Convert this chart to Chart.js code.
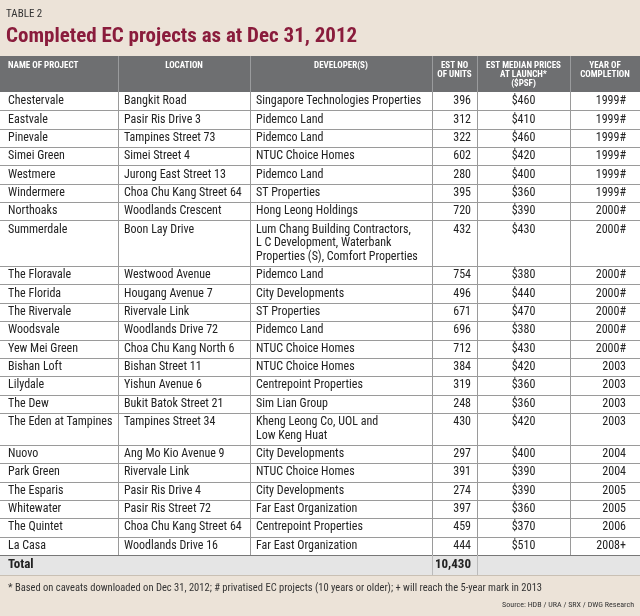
<!DOCTYPE html>
<html><head><meta charset="utf-8">
<script src="https://cdn.jsdelivr.net/npm/chart.js@4"></script>
<style>html,body{margin:0;padding:0;background:#ece3d8;}#wrap{width:640px;height:616px;}</style>
</head><body><div id="wrap"><canvas id="tbl" width="640" height="616"></canvas></div>
<script>
const projects = ['Chestervale','Eastvale','Pinevale','Simei Green','Westmere','Windermere','Northoaks','Summerdale','The Floravale','The Florida','The Rivervale','Woodsvale','Yew Mei Green','Bishan Loft','Lilydale','The Dew','The Eden at Tampines','Nuovo','Park Green','The Esparis','Whitewater','The Quintet','La Casa'];
const locations = ['Bangkit Road','Pasir Ris Drive 3','Tampines Street 73','Simei Street 4','Jurong East Street 13','Choa Chu Kang Street 64','Woodlands Crescent','Boon Lay Drive','Westwood Avenue','Hougang Avenue 7','Rivervale Link','Woodlands Drive 72','Choa Chu Kang North 6','Bishan Street 11','Yishun Avenue 6','Bukit Batok Street 21','Tampines Street 34','Ang Mo Kio Avenue 9','Rivervale Link','Pasir Ris Drive 4','Pasir Ris Street 72','Choa Chu Kang Street 64','Woodlands Drive 16'];
const developers = [['Singapore Technologies Properties'],['Pidemco Land'],['Pidemco Land'],['NTUC Choice Homes'],['Pidemco Land'],['ST Properties'],['Hong Leong Holdings'],['Lum Chang Building Contractors,','L C Development, Waterbank','Properties (S), Comfort Properties'],['Pidemco Land'],['City Developments'],['ST Properties'],['Pidemco Land'],['NTUC Choice Homes'],['NTUC Choice Homes'],['Centrepoint Properties'],['Sim Lian Group'],['Kheng Leong Co, UOL and','Low Keng Huat'],['City Developments'],['NTUC Choice Homes'],['City Developments'],['Far East Organization'],['Centrepoint Properties'],['Far East Organization']];
const units = [396,312,322,602,280,395,720,432,754,496,671,696,712,384,319,248,430,297,391,274,397,459,444];
const prices = [460,410,460,420,400,360,390,430,380,440,470,380,430,420,360,360,420,400,390,390,360,370,510];
const years = ['1999#','1999#','1999#','1999#','1999#','1999#','2000#','2000#','2000#','2000#','2000#','2000#','2000#','2003','2003','2003','2003','2004','2004','2005','2005','2006','2008+'];
const headers = [['NAME OF PROJECT'],['LOCATION'],['DEVELOPER(S)'],['EST NO','OF UNITS'],['EST MEDIAN PRICES','AT LAUNCH*','($PSF)'],['YEAR OF','COMPLETION']];
const totalLabel = 'Total';
const totalUnits = '10,430';

// row extents in "line units" on the y scale
const PAD = 0.34;
const rowStart = [];
let acc = 0;
developers.forEach(d => { rowStart.push(acc); acc += d.length + PAD; });
const yMax = acc;

const cols = [0, 118, 250, 432, 477, 570, 640];
const FONT = "'Liberation Sans Narrow','Roboto Condensed','Liberation Sans',sans-serif";

const tablePlugin = {
  id: 'tablePlugin',
  beforeDraw(chart) {
    const c = chart.ctx, y = chart.scales.y;
    c.save();
    c.fillStyle = '#ece3d8'; c.fillRect(0, 0, 640, 616);
    c.fillStyle = '#333'; c.font = '11px ' + FONT; c.textBaseline = 'middle';
    c.fillText('TABLE 2', 6, 14);
    c.fillStyle = '#8a1c3c'; c.font = 'bold 21px ' + FONT;
    c.fillText('Completed EC projects as at Dec 31, 2012', 6, 37);
    // header
    c.fillStyle = '#6e6f71'; c.fillRect(0, 56, 640, 36);
    c.fillStyle = '#fff'; c.font = 'bold 9px ' + FONT;
    headers.forEach((h, i) => {
      h.forEach((t, k) => {
        if (i === 0) { c.textAlign = 'left'; c.fillText(t, 8, 66 + k * 9); }
        else { c.textAlign = 'center'; c.fillText(t, (cols[i] + cols[i + 1]) / 2, 66 + k * 9); }
      });
    });
    c.strokeStyle = '#9a9b9d'; c.lineWidth = 1;
    for (let i = 1; i < 6; i++) { c.beginPath(); c.moveTo(cols[i] + 0.5, 56); c.lineTo(cols[i] + 0.5, 92); c.stroke(); }
    // body
    const top = y.getPixelForValue(0), bot = y.getPixelForValue(yMax);
    c.fillStyle = '#fff'; c.fillRect(0, top, 640, bot - top);
    c.font = '12px ' + FONT; c.fillStyle = '#222';
    const lineH = y.getPixelForValue(1) - y.getPixelForValue(0);
    const padPx = lineH * PAD / 2;
    projects.forEach((p, r) => {
      const y0 = y.getPixelForValue(rowStart[r]);
      const ty = y0 + padPx + lineH / 2;
      c.textAlign = 'left';
      c.fillText(p, 8, ty);
      c.fillText(locations[r], cols[1] + 6, ty);
      developers[r].forEach((d, k) => c.fillText(d, cols[2] + 6, ty + k * lineH));
      c.textAlign = 'right';
      c.fillText(String(units[r]), cols[4] - 6, ty);
      c.textAlign = 'center';
      c.fillText('$' + prices[r], (cols[4] + cols[5]) / 2, ty);
      c.textAlign = 'right';
      c.fillText(years[r], cols[6] - 14, ty);
      if (r > 0) {
        c.strokeStyle = '#9a9a9a';
        c.beginPath(); c.moveTo(0, Math.round(y0) + 0.5); c.lineTo(640, Math.round(y0) + 0.5); c.stroke();
      }
    });
    c.strokeStyle = '#9a9a9a';
    for (let i = 1; i < 6; i++) { c.beginPath(); c.moveTo(cols[i] + 0.5, top); c.lineTo(cols[i] + 0.5, bot); c.stroke(); }
    // total row
    c.fillStyle = '#e5e5e5'; c.fillRect(0, bot, 640, 20);
    c.strokeStyle = '#777'; c.beginPath(); c.moveTo(0, bot + 0.5); c.lineTo(640, bot + 0.5); c.stroke();
    c.strokeStyle = '#bbb';
    [cols[3], cols[4]].forEach(x => { c.beginPath(); c.moveTo(x + 0.5, bot); c.lineTo(x + 0.5, bot + 20); c.stroke(); });
    c.fillStyle = '#222'; c.font = 'bold 13px ' + FONT;
    c.textAlign = 'left'; c.fillText(totalLabel, 8, bot + 10);
    c.textAlign = 'right'; c.fillText(totalUnits, cols[4] - 6, bot + 10);
    c.strokeStyle = '#c9c0b4'; c.beginPath(); c.moveTo(0, bot + 20.5); c.lineTo(640, bot + 20.5); c.stroke();
    // footer
    c.fillStyle = '#333'; c.font = '10.5px ' + FONT; c.textAlign = 'left';
    c.fillText('* Based on caveats downloaded on Dec 31, 2012; # privatised EC projects (10 years or older); + will reach the 5-year mark in 2013', 8, 588);
    c.font = '8px ' + FONT; c.textAlign = 'right';
    c.fillText('Source: HDB / URA / SRX / DWG Research', 634, 605);
    c.restore();
  }
};

new Chart(document.getElementById('tbl'), {
  type: 'scatter',
  data: { datasets: [{ data: projects.map((p, i) => ({ x: 0, y: rowStart[i] })), pointRadius: 0 }] },
  options: {
    responsive: false, animation: false,
    layout: { padding: { top: 92, bottom: 61, left: 0, right: 0 } },
    plugins: { legend: { display: false }, tooltip: { enabled: false } },
    scales: {
      x: { display: false, min: 0, max: 1 },
      y: { display: false, reverse: true, min: 0, max: yMax }
    }
  },
  plugins: [tablePlugin]
});
</script>
</body></html>
